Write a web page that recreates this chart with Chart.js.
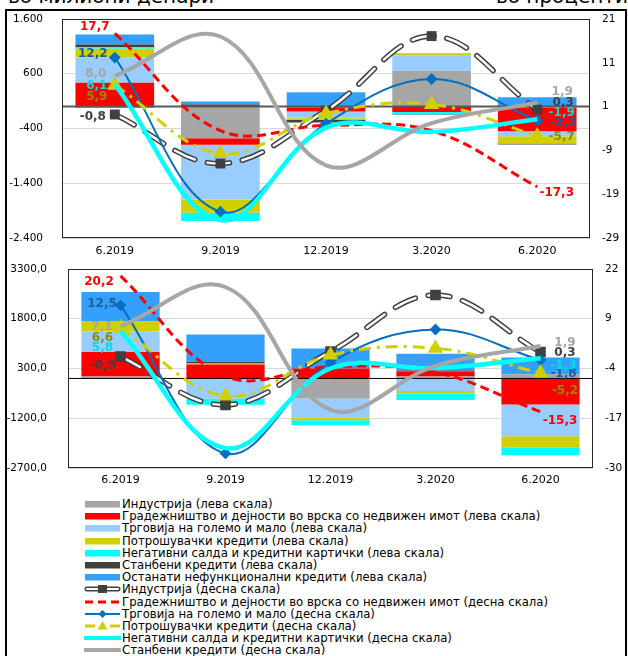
<!DOCTYPE html>
<html>
<head>
<meta charset="utf-8">
<script src="https://cdn.jsdelivr.net/npm/chart.js@4.4.1/dist/chart.umd.min.js"></script>
<style>
  body { margin: 0; background: #fff; width: 628px; height: 656px; overflow: hidden; position: relative;
         font-family: "DejaVu Sans", Verdana, sans-serif; }
  .frame { position: absolute; left: 5px; top: 9px; width: 622px; height: 720px; border: 2px solid #000; box-sizing: border-box; }
  .unit { position: absolute; top: -15px; font-size: 20px; line-height: 23px; color: #000; white-space: nowrap; }
  canvas { position: absolute; left: 0; }
  #legend { position: absolute; left: 84px; top: 498px; font-size: 11.7px; color: #000; }
  .row { height: 12.2px; display: flex; align-items: center; white-space: nowrap; }
  .row svg { width: 37px; height: 12px; flex: none; margin-right: 1px; }
</style>
</head>
<body>
<div class="frame"></div>
<div class="unit" style="left:8px">во милиони денари</div>
<div class="unit" style="right:0px">во проценти</div>
<canvas id="topChart" width="628" height="262" style="top:0"></canvas>
<canvas id="bottomChart" width="628" height="228" style="top:262px"></canvas>
<div id="legend"></div>

<script>
// ---------- data ----------
const categories = ['6.2019', '9.2019', '12.2019', '3.2020', '6.2020'];

const seriesNames = [
  'Индустрија',
  'Градежништво и дејности во врска со недвижен имот',
  'Трговија на големо и мало',
  'Потрошувачки кредити',
  'Негативни салда и кредитни картички',
  'Станбени кредити',
  'Останати нефункционални кредити'
];
const leftScaleNote = ' (лева скала)';
const rightScaleNote = ' (десна скала)';

// upper panel: changes, millions of denars (left scale)
const topIndustryBars     = [-25, -576, -10, 655, -15];
const topConstructionBars = [436, -121, -79, -100, -436];
const topTradeBars        = [467, -1000, -115, 273, -91];
const topConsumerBars     = [152, -242, -18, 36, -121];
const topOverdraftBars    = [30, -152, -18, -40, -18];
const topHousingBars      = [50, 40, -50, -10, -10];
const topOtherBars        = [182, 55, 264, 10, 170];

// upper panel: rates, percent (right scale)
const topIndustryPct     = [-0.8, -12.0, 0.1, 17.1, 0.3];
const topConstructionPct = [17.7, -4.5, -3.3, -4.5, -17.3];
const topTradePct        = [12.2, -23.0, -2.9, 7.3, -2.2];
const topConsumerPct     = [5.9, -9.7, -0.6, 1.5, -5.7];
const topOverdraftPct    = [6.1, -24.9, -3.8, -4.8, -1.9];
const topHousingPct      = [8.0, 17.0, -12.4, -2.8, 1.9];

// lower panel: changes, millions of denars (left scale)
const bottomIndustryBars     = [60, -10, -603, 60, 130];
const bottomConstructionBars = [734, 422, 302, 151, -784];
const bottomTradeBars        = [623, -603, -583, -382, -955];
const bottomConsumerBars     = [302, 30, -72, -70, -352];
const bottomOverdraftBars    = [0, -181, -151, -201, -221];
const bottomHousingBars      = [0, 50, 0, 30, 0];
const bottomOtherBars        = [884, 824, 603, 503, 503];

// lower panel: rates, percent (right scale)
const bottomIndustryPct     = [-0.9, -13.5, 0.4, 15.2, 0.3];
const bottomConstructionPct = [20.2, -6.0, -3.5, -5.0, -15.3];
const bottomTradePct        = [12.5, -26.2, -2.5, 6.2, -1.8];
const bottomConsumerPct     = [6.6, -11.2, -0.5, 1.3, -5.2];
const bottomOverdraftPct    = [5.8, -24.8, -4.0, -3.9, -1.3];
const bottomHousingPct      = [7.1, 17.3, -14.8, -3.3, 1.9];

// axis ticks
const topLeftTicks     = [1600, 600, -400, -1400, -2400];
const topRightTicks    = [21, 11, 1, -9, -19, -29];
const bottomLeftTicks  = [3300, 1800, 300, -1200, -2700];
const bottomRightTicks = [22, 9, -4, -17, -30];

// ---------- styles ----------
const barColors = ['#a6a6a6', '#ff0000', '#99ccff', '#d0d000', '#00ffff', '#404040', '#35a0fb'];
const labelColors = ['#404040', '#ff0000', '#1e5c9c', '#8f8a00', '#00dede', '#a6a6a6'];
const FONT = '"DejaVu Sans", Verdana, sans-serif';
const TENSION = 0.38;

// end-label offsets (dx, dy) from the first and last point of each line
const topLabelOffsets = {
  first: [[-22, 2], [-20, -6.5], [-22, -4], [-18, 12], [-18, 2], [-19, -2]],
  last:  [[26, -7], [19.5, 6], [26, 2], [24.5, 1], [24.5, -6.5], [25, -11]]
};
const bottomLabelOffsets = {
  first: [[-17.5, 9.5], [-21.5, 6], [-18.5, -1], [-18, 10], [-18, 17], [-18.5, 0.7]],
  last:  [[24.5, 1], [19.5, 9], [23, 14], [24.5, 17.7], [23, 8], [24.5, -3]]
};

function barSets(values) {
  return values.map((v, i) => ({
    type: 'bar', label: seriesNames[i] + leftScaleNote, data: v, yAxisID: 'y',
    backgroundColor: barColors[i], borderWidth: 0, stack: 'b', order: 10,
    barPercentage: 0.745, categoryPercentage: 1
  }));
}

function lineSets(values, offsets, markerSize) {
  const common = { type: 'line', yAxisID: 'y2', tension: TENSION, fill: false };
  const lab = i => ({ color: labelColors[i], first: offsets.first[i], last: offsets.last[i] });
  return [
    Object.assign({}, common, { label: 'outline', data: values[0], borderColor: '#404040', borderWidth: 5.5,
      borderDash: [22, 13], borderCapStyle: 'round', pointRadius: 0, order: 7 }),
    Object.assign({}, common, { label: seriesNames[0] + rightScaleNote, data: values[0], borderColor: '#ffffff',
      borderWidth: 2.5, borderDash: [22, 13], borderCapStyle: 'round', pointStyle: 'rect', pointRadius: markerSize,
      pointBackgroundColor: '#404040', pointBorderColor: '#404040', pointBorderWidth: 0, order: 6, endLabels: lab(0) }),
    Object.assign({}, common, { label: seriesNames[1] + rightScaleNote, data: values[1], borderColor: '#ff0000',
      borderWidth: 3, borderDash: [9, 5], pointRadius: 0, order: 5, endLabels: lab(1) }),
    Object.assign({}, common, { label: seriesNames[2] + rightScaleNote, data: values[2], borderColor: '#0070c0',
      borderWidth: 2, pointStyle: 'rectRot', pointRadius: 4.5, pointBackgroundColor: '#0070c0',
      pointBorderColor: '#0070c0', order: 4, endLabels: lab(2) }),
    Object.assign({}, common, { label: seriesNames[3] + rightScaleNote, data: values[3], borderColor: '#d0d000',
      borderWidth: 3, borderDash: [12, 6, 3, 6], pointStyle: 'triangle', pointRadius: 6,
      pointBackgroundColor: '#d0d000', pointBorderColor: '#d0d000', order: 3, endLabels: lab(3) }),
    Object.assign({}, common, { label: seriesNames[4] + rightScaleNote, data: values[4], borderColor: '#00ffff',
      borderWidth: 4.5, pointRadius: 0, order: 2, endLabels: lab(4) }),
    Object.assign({}, common, { label: seriesNames[5] + rightScaleNote, data: values[5], borderColor: '#a6a6a6',
      borderWidth: 4, pointRadius: 0, order: 1, endLabels: lab(5) })
  ];
}

function pctText(v) { return v.toFixed(1).replace('.', ','); }
function dotThousands(v) {
  const s = Math.abs(v).toString().replace(/\B(?=(\d{3})+(?!\d))/g, '.');
  return (v < 0 ? '-' : '') + s;
}

// zero line, plot frame and value labels at both ends of each line
const panelDecor = {
  id: 'panelDecor',
  beforeDatasetsDraw(chart) { chart.$zeroDone = false; },
  beforeDatasetDraw(chart, args, opts) {
    if (!chart.$zeroDone && chart.data.datasets[args.index].type === 'line') {
      drawZero(chart, opts); chart.$zeroDone = true;
    }
  },
  afterDatasetsDraw(chart, args, opts) {
    if (!chart.$zeroDone) { drawZero(chart, opts); chart.$zeroDone = true; }
    const ctx = chart.ctx;
    ctx.save();
    ctx.font = 'bold 12px ' + FONT;
    ctx.textAlign = 'center';
    ctx.textBaseline = 'middle';
    chart.data.datasets.forEach((ds, i) => {
      if (!ds.endLabels) return;
      const pts = chart.getDatasetMeta(i).data;
      const n = ds.data.length - 1;
      ctx.fillStyle = ds.endLabels.color;
      const f = ds.endLabels.first, l = ds.endLabels.last;
      ctx.fillText(pctText(ds.data[0]), pts[0].x + f[0], pts[0].y + f[1]);
      ctx.fillText(pctText(ds.data[n]), pts[n].x + l[0], pts[n].y + l[1]);
    });
    ctx.restore();
  },
  afterDraw(chart, args, opts) {
    const a = chart.chartArea, ctx = chart.ctx;
    ctx.save();
    ctx.strokeStyle = opts.frameColor;
    ctx.lineWidth = 1;
    ctx.strokeRect(Math.round(a.left) + 0.5, Math.round(a.top) + 0.5,
                   Math.round(a.right - a.left) - 1, Math.round(a.bottom - a.top) - 1);
    ctx.restore();
  }
};

function drawZero(chart, opts) {
  const a = chart.chartArea, ctx = chart.ctx;
  const y = chart.scales.y.getPixelForValue(0);
  ctx.save();
  ctx.strokeStyle = opts.zeroColor;
  ctx.lineWidth = opts.zeroWidth;
  ctx.beginPath();
  ctx.moveTo(a.left, y);
  ctx.lineTo(a.right, y);
  ctx.stroke();
  ctx.restore();
}

function makeChart(id, bars, lines, cfg) {
  const left = cfg.leftTicks, right = cfg.rightTicks;
  return new Chart(document.getElementById(id), {
    type: 'bar',
    data: { labels: categories, datasets: lineSets(lines, cfg.offsets, cfg.marker).concat(barSets(bars)) },
    plugins: [panelDecor],
    options: {
      responsive: false, animation: false, events: [],
      layout: { padding: { top: cfg.padTop, left: 0, right: 0, bottom: 0 }, autoPadding: false },
      plugins: {
        legend: { display: false }, tooltip: { enabled: false },
        panelDecor: { zeroColor: cfg.zeroColor, zeroWidth: cfg.zeroWidth, frameColor: '#262626' }
      },
      scales: {
        x: {
          stacked: true, grid: { display: false, drawTicks: false }, border: { display: false },
          ticks: { color: '#000', font: { family: FONT, size: 11 }, padding: cfg.xPad, maxRotation: 0 },
          afterFit: s => { s.height = cfg.xHeight; }
        },
        y: {
          position: 'left', stacked: true,
          min: left[left.length - 1], max: left[0], ticks: {
            stepSize: left[0] - left[1], color: '#000', font: { family: FONT, size: 10.5 },
            padding: 0, callback: cfg.leftFormat
          },
          grid: { color: '#d9d9d9', lineWidth: 1, drawTicks: true, tickLength: cfg.leftGap, tickColor: 'rgba(0,0,0,0)' },
          border: { display: false },
          afterFit: s => { s.width = cfg.leftWidth; }
        },
        y2: {
          position: 'right', stacked: false,
          min: right[right.length - 1], max: right[0], ticks: {
            stepSize: right[0] - right[1], color: '#000', font: { family: FONT, size: 10.5 },
            padding: 0, callback: v => String(v)
          },
          grid: { display: true, drawOnChartArea: false, color: 'rgba(0,0,0,0)', drawTicks: true,
                  tickLength: 12, tickColor: 'rgba(0,0,0,0)' },
          border: { display: false },
          afterFit: s => { s.width = cfg.rightWidth; }
        }
      }
    }
  });
}

makeChart('topChart',
  [topIndustryBars, topConstructionBars, topTradeBars, topConsumerBars, topOverdraftBars, topHousingBars, topOtherBars],
  [topIndustryPct, topConstructionPct, topTradePct, topConsumerPct, topOverdraftPct, topHousingPct],
  { leftTicks: topLeftTicks, rightTicks: topRightTicks, offsets: topLabelOffsets, marker: 7,
    padTop: 19, xHeight: 24, xPad: 7, leftWidth: 62, rightWidth: 38, leftGap: 19,
    leftFormat: dotThousands, zeroColor: '#595959', zeroWidth: 2 });

makeChart('bottomChart',
  [bottomIndustryBars, bottomConstructionBars, bottomTradeBars, bottomConsumerBars, bottomOverdraftBars, bottomHousingBars, bottomOtherBars],
  [bottomIndustryPct, bottomConstructionPct, bottomTradePct, bottomConsumerPct, bottomOverdraftPct, bottomHousingPct],
  { leftTicks: bottomLeftTicks, rightTicks: bottomRightTicks, offsets: bottomLabelOffsets, marker: 7.5,
    padTop: 7, xHeight: 22, xPad: 6, leftWidth: 68, rightWidth: 35, leftGap: 21,
    leftFormat: v => v.toFixed(1).replace('.', ','), zeroColor: '#000', zeroWidth: 1 });

// ---------- legend ----------
const lineIcons = [
  '<line x1="3" y1="6" x2="34" y2="6" stroke="#404040" stroke-width="5" stroke-linecap="round"/>' +
  '<line x1="3" y1="6" x2="34" y2="6" stroke="#fff" stroke-width="2.2" stroke-linecap="round"/>' +
  '<rect x="14" y="2" width="9" height="8" fill="#404040"/>',
  '<line x1="1" y1="6" x2="36" y2="6" stroke="#ff0000" stroke-width="3" stroke-dasharray="8,5"/>',
  '<line x1="1" y1="6" x2="36" y2="6" stroke="#0070c0" stroke-width="2"/>' +
  '<polygon points="18.5,2 22.5,6 18.5,10 14.5,6" fill="#0070c0"/>',
  '<line x1="1" y1="6" x2="36" y2="6" stroke="#d0d000" stroke-width="3" stroke-dasharray="10,6,3,6"/>' +
  '<polygon points="18.5,1 23.5,9.5 13.5,9.5" fill="#d0d000"/>',
  '<line x1="1" y1="6" x2="36" y2="6" stroke="#00ffff" stroke-width="4" stroke-linecap="round"/>',
  '<line x1="1" y1="6" x2="36" y2="6" stroke="#a6a6a6" stroke-width="4" stroke-linecap="round"/>'
];
let legendHtml = '';
seriesNames.forEach((name, i) => {
  legendHtml += '<div class="row"><svg viewBox="0 0 37 12"><rect x="1" y="3" width="35" height="6.5" fill="' +
    barColors[i] + '"/></svg><span>' + name + leftScaleNote + '</span></div>';
});
seriesNames.slice(0, 6).forEach((name, i) => {
  legendHtml += '<div class="row"><svg viewBox="0 0 37 12">' + lineIcons[i] + '</svg><span>' +
    name + rightScaleNote + '</span></div>';
});
document.getElementById('legend').innerHTML = legendHtml;
</script>
</body>
</html>
